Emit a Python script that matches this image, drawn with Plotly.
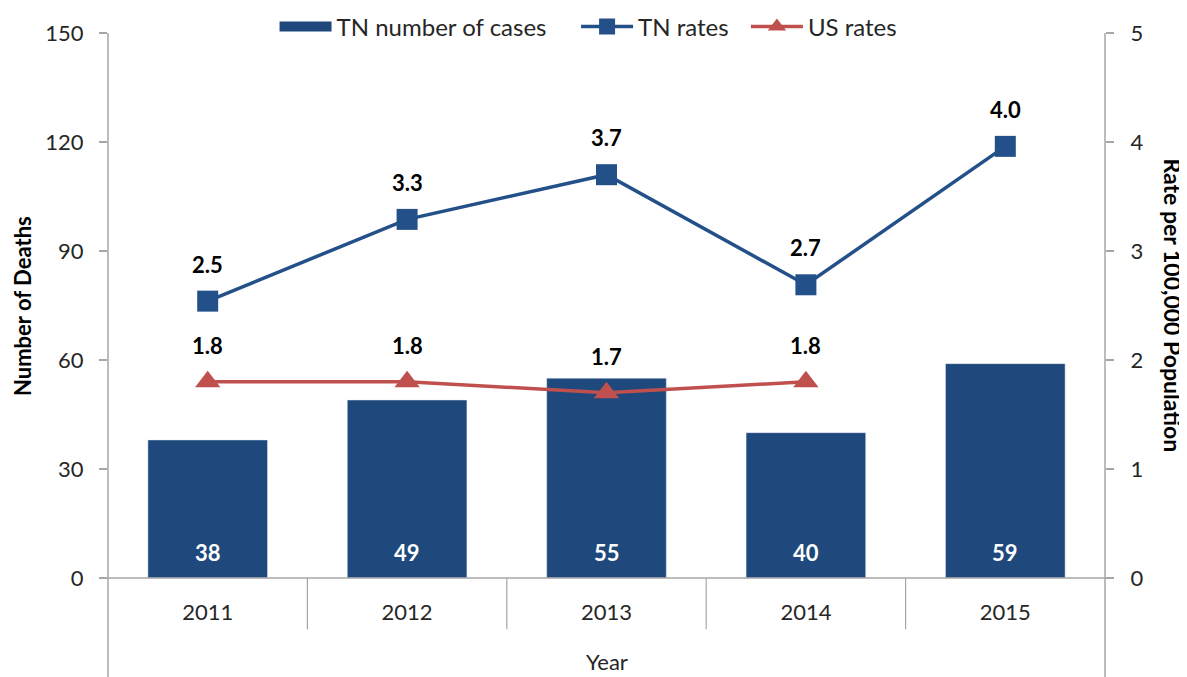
import plotly.graph_objects as go

years = ["2011", "2012", "2013", "2014", "2015"]
tn_cases = [38, 49, 55, 40, 59]
tn_rates = [2.54, 3.29, 3.70, 2.69, 3.96]
us_years = ["2011", "2012", "2013", "2014"]
us_rates = [1.80, 1.80, 1.70, 1.80]

BAR = "#1F497D"
TNC = "#24508A"
USC = "#C0504D"
AX = "#A6A6A6"
FONT = "Lato"
TXT = "#262626"
FS = 22
LBL = dict(family=FONT, size=FS, color="black", weight="bold")
SP = "\u00a0" * 4

fig = go.Figure()
fig.add_trace(go.Bar(
    x=years, y=tn_cases, name="TN number of cases", marker_color=BAR,
    width=0.6, showlegend=False, yaxis="y",
))
# legend swatch for bars (wide rectangle like the original)
fig.add_trace(go.Scatter(
    x=[None], y=[None], name="TN number of cases" + SP, mode="lines",
    line=dict(color=BAR, width=15), yaxis="y",
))
fig.add_trace(go.Scatter(
    x=years, y=tn_rates, name="TN rates" + "\u00a0" * 2, mode="lines+markers",
    line=dict(color=TNC, width=3.5), marker=dict(symbol="square", size=21, color=TNC),
    yaxis="y2",
))
fig.add_trace(go.Scatter(
    x=us_years, y=us_rates, name="US rates", mode="lines+markers",
    line=dict(color=USC, width=3.5), marker=dict(symbol="triangle-up", size=22, color=USC),
    yaxis="y2",
))

annotations = []
for i, v in enumerate(tn_cases):
    annotations.append(dict(x=i, y=0, xref="x", yref="y", text=str(v), showarrow=False,
                            yanchor="middle", yshift=26,
                            font=dict(family=FONT, size=FS, color="white", weight="bold")))
for i, yv in enumerate(tn_rates):
    annotations.append(dict(x=i, y=yv, xref="x", yref="y2", text=f"{yv:.1f}",
                            showarrow=False, yanchor="middle", yshift=37, font=LBL))
for i, yv in enumerate(us_rates):
    annotations.append(dict(x=i, y=yv, xref="x", yref="y2", text=f"{yv:.1f}",
                            showarrow=False, yanchor="middle", yshift=36, font=LBL))
annotations.append(dict(x=1.0692, y=0.5, xref="paper", yref="paper", text="Rate per 100,000 Population",
                        textangle=90, showarrow=False, xanchor="center", borderpad=0,
                        font=dict(family=FONT, size=23, color="black", weight="bold")))
annotations.append(dict(x=-0.0858, y=0.5, xref="paper", yref="paper", text="Number of Deaths",
                        textangle=-90, showarrow=False, xanchor="center", borderpad=0, font=LBL))
annotations.append(dict(x=0.5, y=-0.154, xref="paper", yref="paper", text="Year",
                        showarrow=False, yanchor="middle",
                        font=dict(family=FONT, size=FS, color=TXT)))

shapes = []
for px in [0, 1]:
    shapes.append(dict(type="line", xref="paper", yref="paper", x0=px, x1=px, y0=-0.182, y1=1,
                       line=dict(color=AX, width=1.5)))
for i in range(len(years) - 1):
    shapes.append(dict(type="line", xref="x", yref="paper", x0=i + 0.5, x1=i + 0.5, y0=0, y1=-0.094,
                       line=dict(color=AX, width=1.2)))
shapes.append(dict(type="line", xref="paper", yref="paper", x0=-0.008, x1=1.008, y0=0, y1=0,
                   line=dict(color=AX, width=1.5)))

# the page body adds an 8px margin, so the figure is 8px smaller each way
fig.update_layout(
    width=1179, height=669,
    margin=dict(l=100, r=82, t=25, b=99, autoexpand=False),
    paper_bgcolor="white", plot_bgcolor="white",
    font=dict(family=FONT, size=FS, color=TXT),
    showlegend=True,
    legend=dict(orientation="h", x=0.482, xanchor="center", y=1.011, yanchor="middle",
                font=dict(family=FONT, size=24, color=TXT), itemwidth=52,
                traceorder="normal", bgcolor="rgba(0,0,0,0)"),
    xaxis=dict(type="category", range=[-0.5, 4.5], showline=False, showgrid=False, ticks="",
               ticklabelstandoff=19, tickfont=dict(size=FS, color=TXT)),
    yaxis=dict(range=[0, 150], tickvals=[0, 30, 60, 90, 120, 150], showgrid=False,
               zeroline=False, showline=False, ticks="outside", ticklen=8, tickcolor=AX,
               tickwidth=1.5, ticklabelstandoff=11, tickfont=dict(size=FS, color=TXT)),
    yaxis2=dict(range=[0, 5], tickvals=[0, 1, 2, 3, 4, 5], overlaying="y", side="right",
                showgrid=False, zeroline=False, showline=False, ticks="outside", ticklen=8,
                tickcolor=AX, tickwidth=1.5, ticklabelstandoff=12, tickfont=dict(size=FS, color=TXT)),
    annotations=annotations,
    shapes=shapes,
)

fig.write_html("out.html")
